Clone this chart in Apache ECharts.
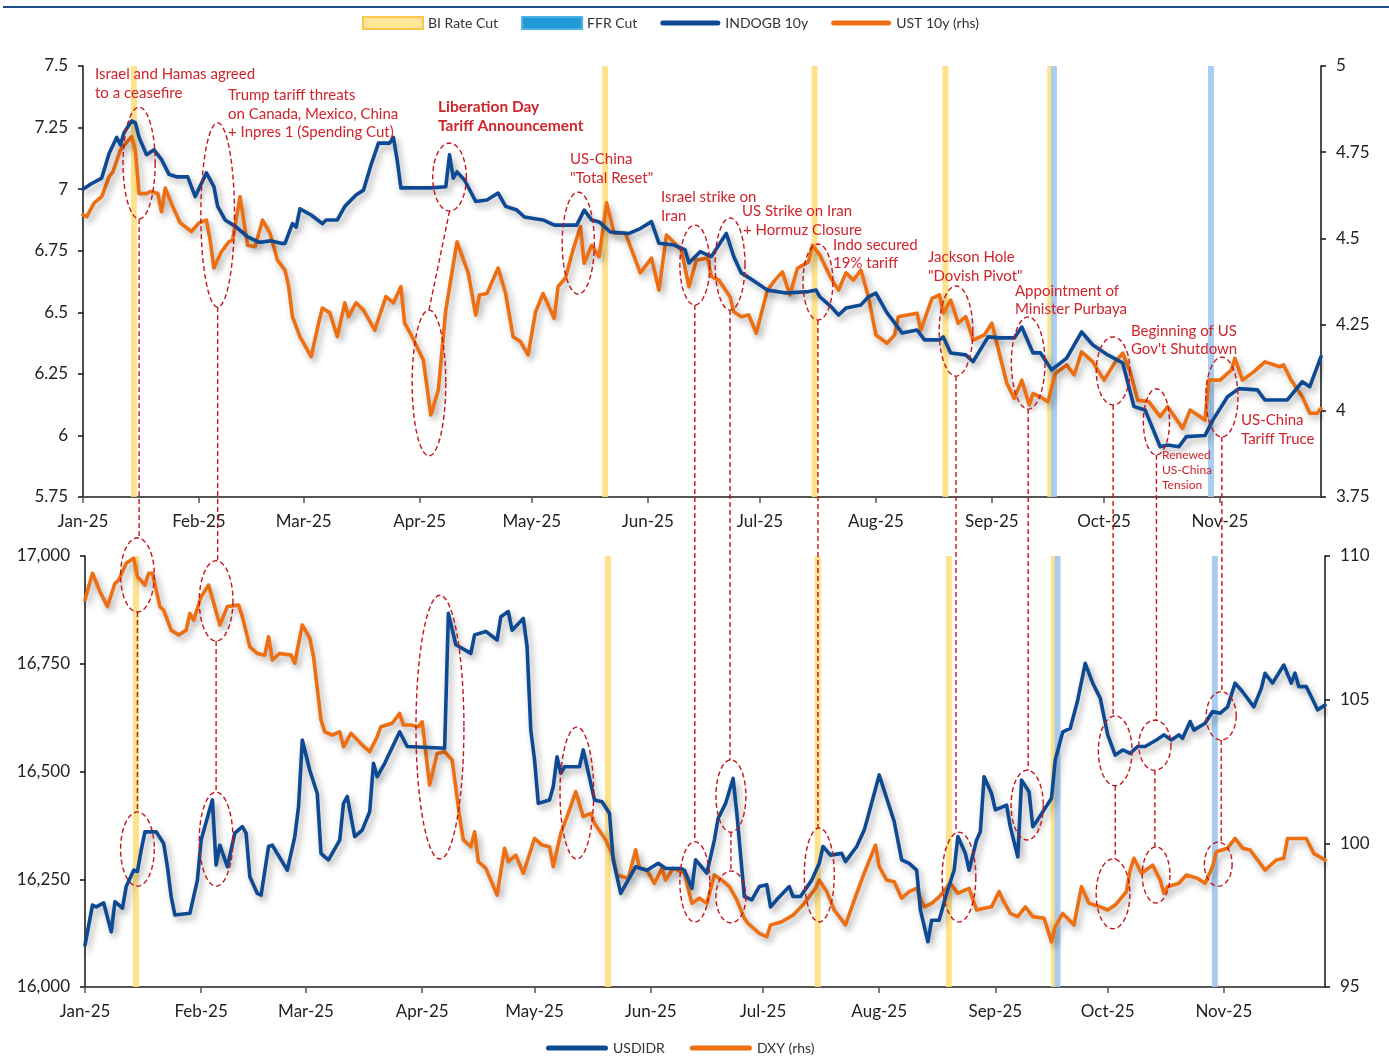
<!DOCTYPE html>
<html><head><meta charset="utf-8">
<script src="https://cdn.jsdelivr.net/npm/echarts@6/dist/echarts.min.js"></script>
<style>html,body{margin:0;padding:0;background:#fff}#c{width:1389px;height:1061px}</style>
</head><body><div id="c"></div>
<script>
// ---------------- DATA ----------------
const X_MIN = '2025-01-01';
const X_MAX = '2025-11-28';
const MONTH_TICKS = ['2025-01-01','2025-02-01','2025-03-01','2025-04-01','2025-05-01','2025-06-01','2025-07-01','2025-08-01','2025-09-01','2025-10-01','2025-11-01'];
const MONTH_NAMES = ['Jan','Feb','Mar','Apr','May','Jun','Jul','Aug','Sep','Oct','Nov','Dec'];
const BI_RATE_CUTS = ['2025-01-15','2025-05-21','2025-07-16','2025-08-20','2025-09-17'];
const FFR_CUTS = ['2025-09-17','2025-10-29'];

const INDOGB_10Y = [
['2025-01-01',7.00],['2025-01-03',7.02],['2025-01-06',7.045],['2025-01-08',7.146],['2025-01-10',7.21],['2025-01-11',7.18],['2025-01-12',7.23],['2025-01-14',7.277],['2025-01-15',7.27],['2025-01-16',7.21],['2025-01-18',7.14],['2025-01-20',7.16],['2025-01-22',7.12],['2025-01-24',7.06],['2025-01-26',7.05],['2025-01-29',7.05],['2025-01-31',6.97],
['2025-02-03',7.066],['2025-02-05',7.01],['2025-02-06',6.93],['2025-02-08',6.875],['2025-02-11',6.846],['2025-02-14',6.806],['2025-02-17',6.785],['2025-02-18',6.785],['2025-02-20',6.79],['2025-02-23',6.78],['2025-02-24',6.78],['2025-02-26',6.86],['2025-02-27',6.846],['2025-02-28',6.92],
['2025-03-03',6.895],['2025-03-06',6.86],['2025-03-07',6.875],['2025-03-10',6.875],['2025-03-12',6.93],['2025-03-15',6.976],['2025-03-17',6.996],['2025-03-19',7.098],['2025-03-21',7.187],['2025-03-24',7.187],['2025-03-25',7.21],['2025-03-26',7.118],['2025-03-27',7.005],
['2025-04-04',7.005],['2025-04-08',7.01],['2025-04-09',7.14],['2025-04-10',7.045],['2025-04-11',7.07],['2025-04-13',7.037],['2025-04-16',6.95],['2025-04-19',6.956],['2025-04-22',6.984],['2025-04-24',6.93],['2025-04-27',6.915],['2025-04-29',6.887],
['2025-05-04',6.875],['2025-05-07',6.854],['2025-05-13',6.854],['2025-05-15',6.915],['2025-05-17',6.875],['2025-05-19',6.867],['2025-05-22',6.826],['2025-05-27',6.82],['2025-05-30',6.84],
['2025-06-02',6.868],['2025-06-04',6.78],['2025-06-08',6.773],['2025-06-11',6.753],['2025-06-12',6.70],['2025-06-15',6.746],['2025-06-18',6.726],['2025-06-22',6.82],['2025-06-24',6.726],['2025-06-26',6.66],['2025-06-29',6.631],
['2025-07-03',6.59],['2025-07-08',6.578],['2025-07-14',6.584],['2025-07-16',6.59],['2025-07-17',6.563],['2025-07-20',6.523],['2025-07-22',6.489],['2025-07-24',6.517],['2025-07-28',6.53],['2025-07-30',6.563],
['2025-08-01',6.578],['2025-08-04',6.497],['2025-08-06',6.457],['2025-08-08',6.416],['2025-08-12',6.428],['2025-08-14',6.388],['2025-08-18',6.388],['2025-08-19',6.40],['2025-08-21',6.335],['2025-08-25',6.327],['2025-08-27',6.30],['2025-08-31',6.40],
['2025-09-03',6.396],['2025-09-07',6.396],['2025-09-09',6.44],['2025-09-12',6.335],['2025-09-14',6.335],['2025-09-17',6.266],['2025-09-21',6.314],['2025-09-25',6.42],['2025-09-28',6.367],
['2025-10-02',6.327],['2025-10-06',6.294],['2025-10-09',6.117],['2025-10-12',6.103],['2025-10-16',5.954],['2025-10-18',5.961],['2025-10-21',5.954],['2025-10-23',5.995],['2025-10-28',6.00],['2025-10-30',6.06],
['2025-11-03',6.157],['2025-11-06',6.19],['2025-11-11',6.185],['2025-11-13',6.144],['2025-11-19',6.144],['2025-11-23',6.218],['2025-11-25',6.198],['2025-11-28',6.32]
];

const UST_10Y = [
['2025-01-01',4.568],['2025-01-02',4.563],['2025-01-04',4.603],['2025-01-06',4.621],['2025-01-08',4.679],['2025-01-09',4.693],['2025-01-11',4.756],['2025-01-12',4.77],['2025-01-14',4.795],['2025-01-15',4.756],['2025-01-16',4.63],['2025-01-18',4.63],['2025-01-19',4.636],['2025-01-21',4.63],['2025-01-22',4.577],['2025-01-23',4.646],['2025-01-25',4.592],['2025-01-27',4.545],['2025-01-30',4.52],
['2025-02-01',4.545],['2025-02-03',4.553],['2025-02-04',4.495],['2025-02-05',4.414],['2025-02-07',4.461],['2025-02-09',4.49],['2025-02-10',4.495],['2025-02-12',4.621],['2025-02-14',4.48],['2025-02-16',4.476],['2025-02-18',4.553],['2025-02-20',4.515],['2025-02-22',4.437],['2025-02-24',4.408],['2025-02-25',4.36],['2025-02-26',4.273],['2025-02-28',4.215],
['2025-03-03',4.157],['2025-03-05',4.254],['2025-03-06',4.298],['2025-03-08',4.284],['2025-03-10',4.215],['2025-03-12',4.313],['2025-03-13',4.273],['2025-03-15',4.313],['2025-03-17',4.292],['2025-03-20',4.234],['2025-03-23',4.331],['2025-03-25',4.313],['2025-03-27',4.36],['2025-03-28',4.254],['2025-03-30',4.215],
['2025-04-02',4.147],['2025-04-04',3.988],['2025-04-06',4.06],['2025-04-08',4.292],['2025-04-11',4.49],['2025-04-14',4.40],['2025-04-16',4.278],['2025-04-17',4.336],['2025-04-19',4.34],['2025-04-22',4.414],['2025-04-24',4.34],['2025-04-26',4.215],['2025-04-28',4.20],['2025-04-30',4.162],
['2025-05-02',4.287],['2025-05-04',4.34],['2025-05-07',4.268],['2025-05-08',4.36],['2025-05-10',4.385],['2025-05-12',4.466],['2025-05-14',4.534],['2025-05-15',4.428],['2025-05-17',4.48],['2025-05-19',4.447],['2025-05-21',4.603],['2025-05-23',4.515],['2025-05-26',4.515],['2025-05-28',4.458],['2025-05-30',4.40],
['2025-06-02',4.443],['2025-06-04',4.35],['2025-06-06',4.51],['2025-06-10',4.466],['2025-06-12',4.36],['2025-06-14',4.437],['2025-06-17',4.443],['2025-06-18',4.39],['2025-06-20',4.379],['2025-06-23',4.331],['2025-06-24',4.287],['2025-06-26',4.273],['2025-06-28',4.278],['2025-06-30',4.225],
['2025-07-03',4.35],['2025-07-05',4.379],['2025-07-07',4.403],['2025-07-09',4.336],['2025-07-11',4.413],['2025-07-14',4.432],['2025-07-15',4.48],['2025-07-17',4.452],['2025-07-20',4.384],['2025-07-22',4.35],['2025-07-24',4.40],['2025-07-26',4.379],['2025-07-28',4.408],['2025-07-30',4.331],
['2025-08-01',4.22],['2025-08-04',4.196],['2025-08-06',4.22],['2025-08-07',4.273],['2025-08-12',4.283],['2025-08-13',4.234],['2025-08-16',4.326],['2025-08-18',4.336],['2025-08-19',4.283],['2025-08-21',4.321],['2025-08-23',4.254],['2025-08-25',4.273],['2025-08-27',4.205],['2025-08-30',4.22],
['2025-09-01',4.254],['2025-09-03',4.167],['2025-09-05',4.08],['2025-09-07',4.036],['2025-09-09',4.089],['2025-09-11',4.017],['2025-09-12',4.05],['2025-09-14',4.04],['2025-09-16',4.026],['2025-09-18',4.109],['2025-09-21',4.133],['2025-09-23',4.104],['2025-09-25',4.171],['2025-09-28',4.142],
['2025-10-01',4.089],['2025-10-04',4.142],['2025-10-06',4.167],['2025-10-08',4.113],['2025-10-10',4.031],['2025-10-13',4.026],['2025-10-16',3.983],['2025-10-18',4.012],['2025-10-22',3.949],['2025-10-24',4.002],['2025-10-28',3.973],['2025-10-29',4.089],
['2025-11-01',4.089],['2025-11-04',4.118],['2025-11-05',4.152],['2025-11-07',4.089],['2025-11-10',4.113],['2025-11-13',4.142],['2025-11-17',4.128],['2025-11-18',4.133],['2025-11-20',4.089],['2025-11-23',4.041],['2025-11-25',3.993],['2025-11-27',3.993],['2025-11-28',4.007]
];

const USDIDR = [
['2025-01-01',16097],['2025-01-03',16190],['2025-01-04',16186],['2025-01-06',16195],['2025-01-08',16128],['2025-01-09',16198],['2025-01-11',16183],['2025-01-12',16233],['2025-01-14',16271],['2025-01-15',16268],['2025-01-16',16318],['2025-01-17',16360],['2025-01-20',16360],['2025-01-22',16333],['2025-01-23',16279],['2025-01-24',16210],['2025-01-25',16167],['2025-01-29',16171],['2025-01-31',16248],
['2025-02-01',16341],['2025-02-04',16434],['2025-02-05',16283],['2025-02-06',16329],['2025-02-08',16279],['2025-02-10',16357],['2025-02-12',16372],['2025-02-13',16357],['2025-02-14',16256],['2025-02-16',16217],['2025-02-17',16213],['2025-02-19',16326],['2025-02-20',16329],['2025-02-24',16271],['2025-02-26',16349],['2025-02-27',16418],['2025-02-28',16573],
['2025-03-02',16503],['2025-03-04',16449],['2025-03-05',16310],['2025-03-06',16302],['2025-03-07',16295],['2025-03-10',16341],['2025-03-11',16426],['2025-03-12',16442],['2025-03-14',16349],['2025-03-16',16364],['2025-03-18',16407],['2025-03-19',16519],['2025-03-20',16488],['2025-03-22',16519],['2025-03-26',16592],['2025-03-28',16558],
['2025-04-07',16554],['2025-04-08',16867],['2025-04-10',16794],['2025-04-14',16774],['2025-04-15',16817],['2025-04-18',16825],['2025-04-21',16805],['2025-04-22',16859],['2025-04-24',16871],['2025-04-25',16828],['2025-04-28',16855],['2025-04-29',16790],['2025-04-30',16596],
['2025-05-01',16527],['2025-05-02',16426],['2025-05-05',16434],['2025-05-06',16465],['2025-05-07',16534],['2025-05-08',16496],['2025-05-09',16511],['2025-05-13',16511],['2025-05-14',16550],['2025-05-17',16434],['2025-05-19',16430],['2025-05-21',16403],['2025-05-22',16295],['2025-05-24',16217],['2025-05-25',16233],['2025-05-28',16279],['2025-05-31',16271],
['2025-06-03',16287],['2025-06-05',16275],['2025-06-09',16275],['2025-06-10',16271],['2025-06-12',16229],['2025-06-13',16295],['2025-06-16',16264],['2025-06-18',16341],['2025-06-19',16391],['2025-06-21',16426],['2025-06-23',16484],['2025-06-24',16403],['2025-06-26',16210],['2025-06-28',16202],['2025-06-30',16233],
['2025-07-02',16237],['2025-07-03',16186],['2025-07-05',16206],['2025-07-08',16233],['2025-07-09',16210],['2025-07-11',16210],['2025-07-14',16248],['2025-07-16',16287],['2025-07-17',16326],['2025-07-19',16306],['2025-07-22',16310],['2025-07-23',16291],['2025-07-26',16326],['2025-07-28',16364],['2025-07-29',16395],
['2025-08-01',16492],['2025-08-05',16384],['2025-08-07',16295],['2025-08-09',16287],['2025-08-11',16271],['2025-08-12',16179],['2025-08-14',16105],['2025-08-15',16155],['2025-08-17',16155],['2025-08-19',16217],['2025-08-21',16271],['2025-08-22',16349],['2025-08-24',16310],['2025-08-25',16271],['2025-08-27',16341],['2025-08-28',16360],['2025-08-29',16488],['2025-08-31',16449],
['2025-09-01',16411],['2025-09-04',16422],['2025-09-05',16372],['2025-09-07',16302],['2025-09-08',16480],['2025-09-10',16453],['2025-09-11',16372],['2025-09-12',16384],['2025-09-14',16411],['2025-09-16',16438],['2025-09-17',16527],['2025-09-19',16592],['2025-09-21',16600],['2025-09-23',16666],['2025-09-25',16751],['2025-09-27',16705],['2025-09-29',16670],
['2025-10-01',16585],['2025-10-03',16538],['2025-10-05',16550],['2025-10-07',16542],['2025-10-09',16558],['2025-10-11',16558],['2025-10-14',16573],['2025-10-16',16585],['2025-10-18',16573],['2025-10-20',16585],['2025-10-21',16577],['2025-10-23',16616],['2025-10-24',16596],['2025-10-27',16612],['2025-10-29',16639],['2025-10-31',16635],
['2025-11-02',16650],['2025-11-04',16705],['2025-11-06',16685],['2025-11-09',16650],['2025-11-11',16693],['2025-11-12',16728],['2025-11-14',16705],['2025-11-17',16747],['2025-11-19',16705],['2025-11-20',16728],['2025-11-21',16697],['2025-11-23',16697],['2025-11-25',16662],['2025-11-26',16643],['2025-11-28',16654]
];

const DXY = [
['2025-01-01',108.47],['2025-01-03',109.40],['2025-01-05',108.76],['2025-01-07',108.24],['2025-01-09',109.05],['2025-01-10',109.16],['2025-01-12',109.75],['2025-01-14',109.92],['2025-01-15',109.28],['2025-01-17',108.99],['2025-01-18',109.40],['2025-01-19',109.40],['2025-01-21',108.24],['2025-01-22',108.12],['2025-01-24',107.42],['2025-01-26',107.25],['2025-01-28',107.42],['2025-01-29',108.00],['2025-01-30',107.77],
['2025-02-01',108.58],['2025-02-03',108.99],['2025-02-06',107.60],['2025-02-08',108.24],['2025-02-11',108.29],['2025-02-12',107.89],['2025-02-14',106.84],['2025-02-16',106.61],['2025-02-18',106.55],['2025-02-19',107.19],['2025-02-20',106.38],['2025-02-22',106.61],['2025-02-25',106.55],['2025-02-26',106.27],['2025-02-28',107.60],
['2025-03-02',107.14],['2025-03-03',106.50],['2025-03-05',104.29],['2025-03-06',103.88],['2025-03-08',103.77],['2025-03-10',103.88],['2025-03-11',103.36],['2025-03-13',103.83],['2025-03-16',103.42],['2025-03-18',103.19],['2025-03-20',103.71],['2025-03-21',104.06],['2025-03-24',104.18],['2025-03-26',104.52],['2025-03-27',104.12],['2025-03-29',104.12],['2025-03-31',104.06],
['2025-04-01',104.23],['2025-04-03',102.03],['2025-04-05',103.13],['2025-04-07',103.19],['2025-04-09',102.90],['2025-04-11',100.93],['2025-04-12',100.12],['2025-04-14',99.88],['2025-04-15',100.40],['2025-04-16',99.36],['2025-04-18',99.13],['2025-04-21',98.20],['2025-04-23',99.83],['2025-04-24',99.36],['2025-04-26',99.59],['2025-04-28',98.96],
['2025-05-01',100.17],['2025-05-03',99.94],['2025-05-05',99.88],['2025-05-06',99.19],['2025-05-08',100.35],['2025-05-10',101.04],['2025-05-12',101.80],['2025-05-14',100.93],['2025-05-16',101.04],['2025-05-17',100.70],['2025-05-20',100.12],['2025-05-22',99.53],['2025-05-23',98.90],['2025-05-26',98.78],['2025-05-28',99.77],['2025-05-29',99.13],['2025-05-31',99.07],
['2025-06-02',98.61],['2025-06-04',99.13],['2025-06-05',98.72],['2025-06-07',99.13],['2025-06-10',98.96],['2025-06-12',97.91],['2025-06-14',98.09],['2025-06-16',97.91],['2025-06-18',98.90],['2025-06-20',98.72],['2025-06-22',98.49],['2025-06-24',98.03],['2025-06-26',97.39],['2025-06-27',97.21],['2025-06-30',96.87],
['2025-07-02',96.75],['2025-07-03',97.16],['2025-07-06',97.27],['2025-07-09',97.50],['2025-07-12',97.91],['2025-07-15',98.43],['2025-07-16',98.72],['2025-07-18',98.32],['2025-07-20',97.68],['2025-07-23',97.16],['2025-07-26',98.26],['2025-07-28',98.96],['2025-07-31',99.94],
['2025-08-01',99.19],['2025-08-03',98.72],['2025-08-05',98.66],['2025-08-07',98.09],['2025-08-09',98.32],['2025-08-11',98.43],['2025-08-13',97.79],['2025-08-15',97.91],['2025-08-17',98.14],['2025-08-20',98.61],['2025-08-22',98.26],['2025-08-25',98.43],['2025-08-27',97.68],['2025-08-29',97.74],['2025-08-31',97.79],
['2025-09-02',98.32],['2025-09-03',98.03],['2025-09-05',97.56],['2025-09-07',97.45],['2025-09-09',97.79],['2025-09-11',97.45],['2025-09-14',97.39],['2025-09-16',96.57],['2025-09-17',97.10],['2025-09-19',97.56],['2025-09-22',97.16],['2025-09-24',98.49],['2025-09-26',97.91],['2025-09-29',97.79],
['2025-10-01',97.68],['2025-10-03',97.85],['2025-10-06',98.32],['2025-10-07',99.07],['2025-10-08',99.48],['2025-10-10',98.96],['2025-10-13',99.24],['2025-10-15',98.72],['2025-10-16',98.26],['2025-10-17',98.49],['2025-10-20',98.61],['2025-10-22',98.90],['2025-10-25',98.78],['2025-10-27',98.61],['2025-10-29',99.19],['2025-10-30',99.71],
['2025-11-02',99.83],['2025-11-04',100.17],['2025-11-06',99.83],['2025-11-08',99.77],['2025-11-10',99.42],['2025-11-12',99.07],['2025-11-15',99.42],['2025-11-17',99.48],['2025-11-18',100.17],['2025-11-23',100.17],['2025-11-25',99.65],['2025-11-28',99.42]
];

// Highlight ellipses: [id, centre date, centre value (left axis), half-width in days, half-height in axis units]
const TOP_ELLIPSES = [
['T1','2025-01-16',7.106,4.3,0.227],
['T2','2025-02-06',6.895,4.5,0.374],
['T3','2025-04-09',7.049,4.5,0.138],
['T3b','2025-04-03 12:00',6.213,4.5,0.296],
['T4','2025-05-13 10:00',6.781,4.3,0.207],
['T5','2025-06-13 14:00',6.692,4.0,0.162],
['T6','2025-06-23',6.696,4.0,0.187],
['T7','2025-07-16 12:00',6.623,4.0,0.154],
['T8','2025-08-22 10:00',6.424,4.5,0.183],
['T9','2025-09-10 17:00',6.294,4.5,0.187],
['T10','2025-10-03 10:00',6.262,4.5,0.138],
['T11','2025-10-15',6.055,3.5,0.134],
['T12','2025-11-01 12:00',6.156,4.3,0.162]
];
const BOTTOM_ELLIPSES = [
['B1a','2025-01-15',16956,4.5,86],
['B1b','2025-01-15',16320,4.5,86],
['B2a','2025-02-05',16896,4.5,93],
['B2b','2025-02-05',16343,4.5,109],
['B3','2025-04-05 18:00',16603,6.4,306],
['B4','2025-05-12 07:00',16450,4.5,153],
['B5','2025-06-12 19:00',16244,4.0,93],
['B6a','2025-06-22 10:00',16443,4.0,84],
['B6b','2025-06-22 10:00',16209,4.0,60],
['B7','2025-07-16',16260,4.0,109],
['B8','2025-08-22 07:00',16255,4.5,104],
['B9','2025-09-09 12:00',16422,4.3,81],
['B10a','2025-10-03',16548,4.5,81],
['B10b','2025-10-02 10:00',16216,4.5,81],
['B11a','2025-10-13 14:00',16561,4.3,58],
['B11b','2025-10-13 22:00',16260,3.7,65],
['B12a','2025-10-31 07:00',16629,4.0,56],
['B12b','2025-10-30 12:00',16285,3.7,51]
];
// dashed connectors: [from ellipse (bottom edge), to ellipse (top edge), vertical?]
const CONNECTORS = [
['T1','B1a',true],['B1a','B1b',true],['T2','B2a',true],['B2a','B2b',true],['T3','T3b',false],
['T5','B5',true],['T6','B6a',true],['B6a','B6b',true],['T7','B7',true],['T8','B8',true],['T9','B9',true],
['T10','B10a',true],['B10a','B10b',true],['T11','B11a',true],['B11a','B11b',true],['T12','B12a',true],['B12a','B12b',true]
];
const ANNOTATIONS = [
['Israel and Hamas agreed',95,74,'n'],['to a ceasefire',95,93,'n'],
['Trump tariff threats',228,95,'n'],['on Canada, Mexico, China',228,114,'n'],['+ Inpres 1 (Spending Cut)',228,132,'n'],
['Liberation Day',438,107,'b'],['Tariff Announcement',438,126,'b'],
['US-China',570,159,'n'],['"Total Reset"',570,178,'n'],
['Israel strike on',661,197,'n'],['Iran',661,216,'n'],
['US Strike on Iran',742,211,'n'],['+ Hormuz Closure',743,230,'n'],
['Indo secured',833,245,'n'],['19% tariff',833,263,'n'],
['Jackson Hole',928,257,'n'],['"Dovish Pivot"',928,276,'n'],
['Appointment of',1015,291,'n'],['Minister Purbaya',1015,309,'n'],
['Beginning of US',1131,331,'n'],["Gov't Shutdown",1131,349,'n'],
['US-China',1241,420,'n'],['Tariff Truce',1241,439,'n'],
['Renewed',1162,455,'s'],['US-China',1162,470,'s'],['Tension',1162,485,'s']
];

// ---------------- CHART ----------------
const DAY = 86400000;
function ts(s){
  const parts = s.split(' ');
  const d = parts[0].split('-').map(Number);
  let h = 0, mi = 0;
  if (parts[1]) { const t = parts[1].split(':').map(Number); h = t[0]; mi = t[1]; }
  return new Date(d[0], d[1]-1, d[2], h, mi).getTime();
}
const toXY = arr => arr.map(p => [ts(p[0]), p[1]]);
const toEll = arr => arr.map(e => [ts(e[1]), e[2], e[3], e[4]]);

const FONT = 'Lato, "Noto Sans", sans-serif';
const BLUE = '#0E4A93', ORANGE = '#EE6F12', RED = '#C4161C', ANN = '#D0242B';
const tickVals = MONTH_TICKS.map(ts);
const LINE_ICON = 'path://M2.5,0H57.5A2.5,2.5,0,0,1,57.5,5H2.5A2.5,2.5,0,0,1,2.5,0Z';

function xAxis(gridIndex){
  return {
    type:'value', gridIndex, min: ts(X_MIN), max: ts(X_MAX), scale:true,
    axisLine:{show:true, onZero:false, lineStyle:{color:'#555', width:2}},
    axisTick:{show:true, customValues: tickVals, length:6, lineStyle:{color:'#555', width:1.5}},
    axisLabel:{customValues: tickVals, margin:16, fontSize:17, color:'#222', fontFamily:FONT, hideOverlap:false, showMinLabel:true, showMaxLabel:true,
      formatter: v => { const d = new Date(v); return MONTH_NAMES[d.getMonth()] + '-' + String(d.getFullYear()).slice(2); }},
    splitLine:{show:false}
  };
}
function yAxis(gridIndex, pos, min, max, interval, fmt){
  return {
    type:'value', gridIndex, position:pos, min, max, interval,
    axisLine:{show:true, onZero:false, lineStyle:{color:'#111', width:1.5}},
    axisTick:{show:true, length:5, lineStyle:{color:'#111', width:1.5}},
    axisLabel:{margin:15, fontSize:17, color:'#222', fontFamily:FONT, formatter: fmt},
    splitLine:{show:false}
  };
}
const lineShadow = {shadowColor:'rgba(0,0,0,0.35)', shadowBlur:7, shadowOffsetX:3, shadowOffsetY:4};
function lineSeries(name, xi, yi, data, color){
  return {type:'line', name, xAxisIndex:xi, yAxisIndex:yi, data: toXY(data), showSymbol:false, symbol:'none',
    z:3, lineStyle:Object.assign({color, width:3.6, cap:'round', join:'round'}, lineShadow), itemStyle:{color}, animation:false};
}
function bandSeries(name, xi, yi, dates, legendColor, legendBorder, bandColor, shift){
  return {type:'bar', name, xAxisIndex:xi, yAxisIndex:yi, data:[], z:1,
    itemStyle:{color:legendColor, borderColor:legendBorder, borderWidth:1.5},
    markArea:{silent:true, itemStyle:{color:bandColor, borderWidth:0},
      data: dates.map(d => [{xAxis: ts(d) + (shift-0.8)*DAY}, {xAxis: ts(d) + (shift+0.8)*DAY}])}};
}
function ellipseSeries(name, xi, yi, data){
  return {type:'custom', name, xAxisIndex:xi, yAxisIndex:yi, data: toEll(data), z:5, silent:true, clip:false,
    encode:{x:0, y:1}, animation:false,
    renderItem: (params, api) => {
      const c = api.coord([api.value(0), api.value(1)]);
      const s = api.size([api.value(2)*DAY, api.value(3)]);
      const pts = [];
      for (let k=0;k<=72;k++){ const a = k/72*Math.PI*2; pts.push([c[0]+s[0]*Math.cos(a), c[1]+s[1]*Math.sin(a)]); }
      return {type:'polyline', shape:{points:pts}, style:{fill:null, stroke:RED, lineWidth:1.4, lineDash:[5,3]}};
    }};
}
const BI_BAND = 'rgba(255,222,120,0.85)', FFR_BAND = 'rgba(160,200,240,0.9)';

const chart = echarts.init(document.getElementById('c'), null, {renderer:'canvas'});
chart.setOption({
  animation:false,
  backgroundColor:'#fff',
  grid:[
    {left:83, right:68, top:66, height:431},
    {left:85, right:64, top:556, height:431}
  ],
  legend:[
    {top:11, left:357, itemWidth:60, itemHeight:12, itemGap:23,
     textStyle:{fontSize:14, color:'#333', fontFamily:FONT}, selectedMode:false,
     data:[{name:'BI Rate Cut', icon:'rect'},{name:'FFR Cut', icon:'rect'},{name:'INDOGB 10y', icon:LINE_ICON},{name:'UST 10y (rhs)', icon:LINE_ICON}]},
    {top:1036, left:541, itemWidth:62, itemHeight:12, itemGap:25,
     textStyle:{fontSize:14, color:'#333', fontFamily:FONT}, selectedMode:false,
     data:[{name:'USDIDR', icon:LINE_ICON},{name:'DXY (rhs)', icon:LINE_ICON}]}
  ],
  xAxis:[xAxis(0), xAxis(1)],
  yAxis:[
    yAxis(0,'left',5.75,7.5,0.25),
    yAxis(0,'right',3.75,5,0.25),
    yAxis(1,'left',16000,17000,250, v => v.toLocaleString('en-US')),
    yAxis(1,'right',95,110,5)
  ],
  series:[
    bandSeries('BI Rate Cut',0,0,BI_RATE_CUTS,'#FFE699','#F6C84C',BI_BAND,-0.4),
    bandSeries('FFR Cut',0,0,FFR_CUTS,'#1E9AD6','#4DB0E3',FFR_BAND,0.6),
    lineSeries('UST 10y (rhs)',0,1,UST_10Y,ORANGE),
    lineSeries('INDOGB 10y',0,0,INDOGB_10Y,BLUE),
    ellipseSeries('_ellTop',0,0,TOP_ELLIPSES),
    bandSeries('_bi2',1,2,BI_RATE_CUTS,'#FFE699','#F6C84C',BI_BAND,-0.4),
    bandSeries('_ffr2',1,2,FFR_CUTS,'#1E9AD6','#4DB0E3',FFR_BAND,0.6),
    lineSeries('DXY (rhs)',1,3,DXY,ORANGE),
    lineSeries('USDIDR',1,2,USDIDR,BLUE),
    ellipseSeries('_ellBot',1,2,BOTTOM_ELLIPSES)
  ]
});

// connectors & annotations (positions derived through the chart's own scales)
const ellMap = {};
TOP_ELLIPSES.forEach(e => ellMap[e[0]] = {series:4, t:ts(e[1]), v:e[2], ry:e[4]});
BOTTOM_ELLIPSES.forEach(e => ellMap[e[0]] = {series:9, t:ts(e[1]), v:e[2], ry:e[4]});
const elements = [];
CONNECTORS.forEach(c => {
  const a = ellMap[c[0]], b = ellMap[c[1]];
  const p1 = chart.convertToPixel({seriesIndex:a.series}, [a.t, a.v - a.ry]);
  const p2 = chart.convertToPixel({seriesIndex:b.series}, [b.t, b.v + b.ry]);
  if (!p1 || !p2) return;
  const x2 = c[2] ? p1[0] : p2[0];
  elements.push({type:'line', z:20, silent:true, shape:{x1:p1[0], y1:p1[1], x2:x2, y2:p2[1]},
    style:{stroke:RED, lineWidth:1.4, lineDash:[5,3]}});
});
ANNOTATIONS.forEach(a => {
  const small = a[3]==='s', bold = a[3]==='b';
  elements.push({type:'text', z:20, silent:true, x:a[1], y:a[2],
    style:{text:a[0], fill: ANN, font: (bold?'bold 15.5px ':(small?'12px ':'15px ')) + FONT, textAlign:'left', textVerticalAlign:'middle'}});
});
elements.push({type:'rect', z:20, silent:true, shape:{x:3, y:6, width:1386, height:2}, style:{fill:'#1F4E8A'}});
chart.setOption({graphic:{elements}});
</script></body></html>
